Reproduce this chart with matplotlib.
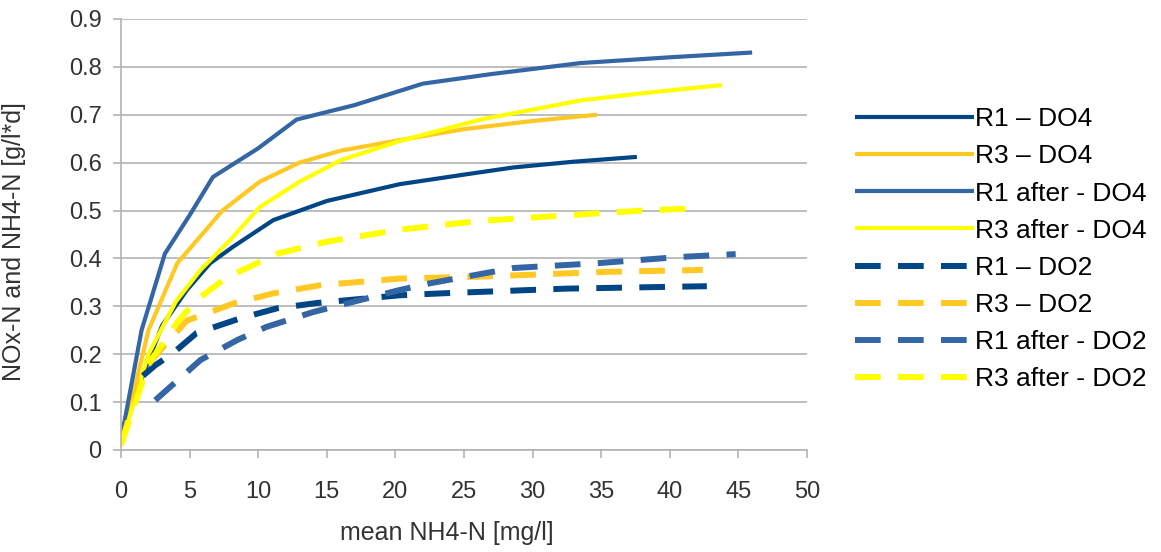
import matplotlib.pyplot as plt

plt.rcParams['font.family'] = ['Liberation Sans', 'DejaVu Sans']

# series (x = mean NH4-N, y = NOx-N and NH4-N)
r1_do4_x = [0, 1.5, 3, 4.8, 6.5, 8.2, 11.1, 15, 20.3, 25, 28.6, 33, 37.6]
r1_do4_y = [0.02, 0.15, 0.26, 0.334, 0.39, 0.425, 0.48, 0.52, 0.555, 0.575, 0.59, 0.602, 0.612]

r3_do4_x = [0, 2, 4.1, 7.4, 10.1, 13, 16, 20.3, 25, 30, 34.7]
r3_do4_y = [0.01, 0.25, 0.39, 0.50, 0.56, 0.60, 0.625, 0.647, 0.67, 0.687, 0.70]

r1a_do4_x = [0, 1.5, 3.2, 5, 6.7, 10, 12.8, 17, 22, 27, 33.5, 40, 46]
r1a_do4_y = [0.02, 0.25, 0.41, 0.49, 0.57, 0.63, 0.69, 0.72, 0.765, 0.785, 0.808, 0.82, 0.83]

r3a_do4_x = [0, 2, 4, 5.8, 8, 10.1, 13, 16, 20.3, 26.2, 33.5, 38, 43.8]
r3a_do4_y = [0.01, 0.2, 0.31, 0.376, 0.44, 0.507, 0.56, 0.605, 0.645, 0.69, 0.73, 0.745, 0.762]

r1_do2_x = [1.6, 2.5, 3.7, 5.5, 8.7, 11.4, 14.3, 20.3, 23.3, 32.5, 42.7]
r1_do2_y = [0.155, 0.177, 0.2, 0.244, 0.275, 0.296, 0.307, 0.323, 0.327, 0.337, 0.342]

r3_do2_x = [0, 1.5, 2.6, 4.8, 8.2, 11.1, 14.5, 20.3, 26.2, 35.4, 42.4]
r3_do2_y = [0.01, 0.16, 0.2, 0.27, 0.306, 0.327, 0.344, 0.358, 0.362, 0.372, 0.376]

r1a_do2_x = [2.5, 5.8, 8.5, 10.6, 14, 20.3, 22.5, 28.6, 34.7, 40.7, 44.8]
r1a_do2_y = [0.104, 0.188, 0.23, 0.257, 0.288, 0.334, 0.348, 0.38, 0.39, 0.403, 0.409]

r3a_do2_x = [0, 2, 4.2, 5.5, 7.7, 11.4, 15, 20.3, 26, 32.5, 38, 42.3]
r3a_do2_y = [0.01, 0.18, 0.27, 0.313, 0.36, 0.41, 0.435, 0.46, 0.478, 0.49, 0.5, 0.505]

dark = '#004586'
mid = '#3465a4'
gold = '#ffc823'
yel = '#ffff00'

fig = plt.figure(figsize=(11.61, 5.52), dpi=100)
ax = fig.add_axes([0.1042, 0.1848, 0.5909, 0.7808])

solid = dict(lw=3.0, solid_capstyle='butt')
dash = dict(lw=4.3, dashes=(4.3, 2.9), dash_capstyle='butt')

ax.plot(r1_do4_x, r1_do4_y, color=dark, label='R1 – DO4', **solid)
ax.plot(r3_do4_x, r3_do4_y, color=gold, label='R3 – DO4', **solid)
ax.plot(r1a_do4_x, r1a_do4_y, color=mid, label='R1 after - DO4', **solid)
ax.plot(r3a_do4_x, r3a_do4_y, color=yel, label='R3 after - DO4', **solid)
ax.plot(r1_do2_x, r1_do2_y, color=dark, label='R1 – DO2', **dash)
ax.plot(r3_do2_x, r3_do2_y, color=gold, label='R3 – DO2', **dash)
ax.plot(r1a_do2_x, r1a_do2_y, color=mid, label='R1 after - DO2', **dash)
ax.plot(r3a_do2_x, r3a_do2_y, color=yel, label='R3 after - DO2', **dash)

ax.set_xlim(0, 50)
ax.set_ylim(0, 0.9)
ax.set_xticks(range(0, 51, 5))
ax.set_yticks([i / 10 for i in range(10)])
ax.set_yticklabels(['0'] + ['%.1f' % (i / 10) for i in range(1, 10)])
ax.grid(axis='y', color='#b3b3b3', lw=1.2)
ax.set_axisbelow(True)
for s in ['top', 'right']:
    ax.spines[s].set_visible(False)
for s in ['left', 'bottom']:
    ax.spines[s].set_color('#b3b3b3')
    ax.spines[s].set_linewidth(1.2)
ax.tick_params(colors='#b3b3b3', width=1.2, length=6, labelcolor='#333333', labelsize=17)
ax.tick_params(axis='x', pad=16)
ax.tick_params(axis='y', pad=8)

ax.set_xlabel('mean NH4-N [mg/l]', fontsize=18, color='#333333')
ax.set_ylabel('NOx-N and NH4-N [g/l*d]', fontsize=18, color='#333333')
ax.xaxis.set_label_coords(0.475, -0.165)
ax.yaxis.set_label_coords(-0.138, 0.483)

ax.legend(loc='upper left', bbox_to_anchor=(1.055, 0.82), frameon=False, fontsize=19,
          handlelength=4.5, handletextpad=0.05, labelspacing=0.5, borderaxespad=0)

fig.savefig('out.png', dpi=100)
